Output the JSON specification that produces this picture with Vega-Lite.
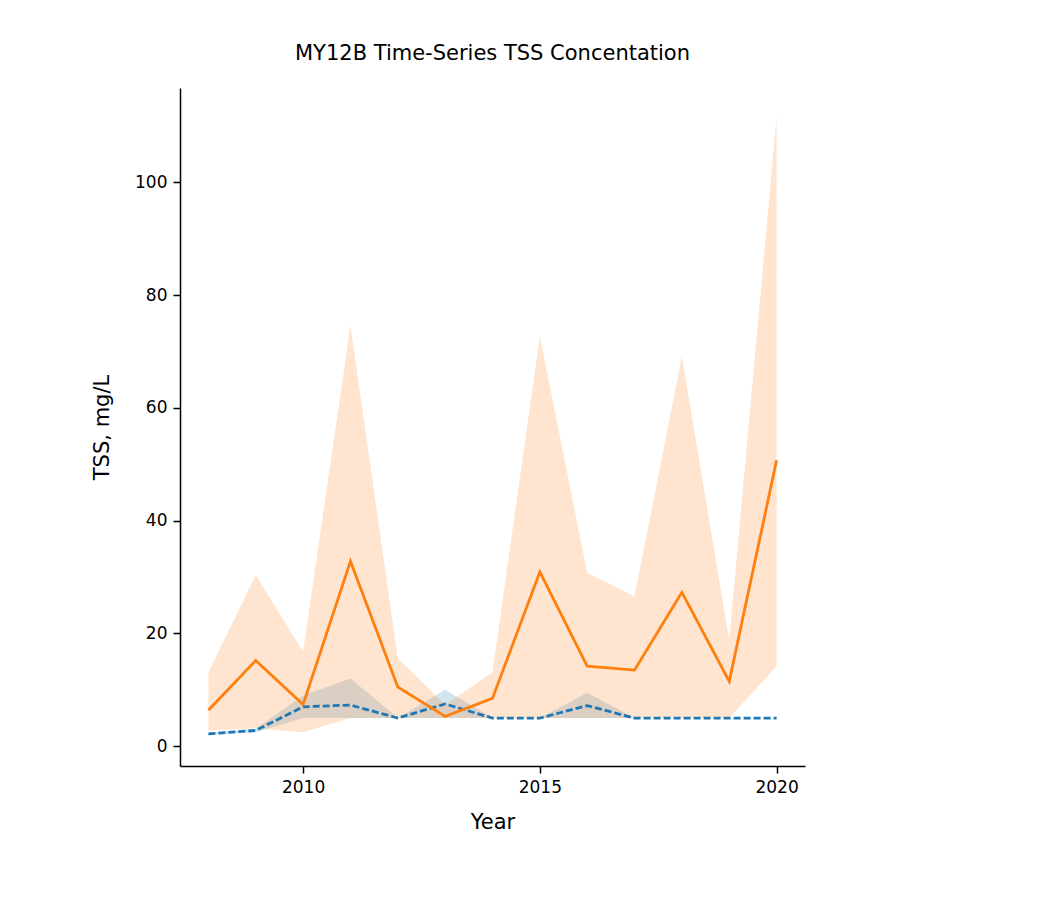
{
  "$schema": "https://vega.github.io/schema/vega-lite/v6.json",
  "autosize": "none",
  "width": 625,
  "height": 678,
  "padding": {"left": 180, "top": 88, "right": 236, "bottom": 149},
  "background": "white",
  "title": {"text": "MY12B Time-Series TSS Concentation", "font": "DejaVu Sans", "fontSize": 21, "fontWeight": "normal", "anchor": "middle", "offset": 24, "color": "black"},
  "config": {
    "view": {"stroke": null},
    "axis": {"labelFont": "DejaVu Sans", "titleFont": "DejaVu Sans", "labelFontSize": 17, "titleFontSize": 21, "titleFontWeight": "normal", "grid": false, "domainColor": "black", "tickColor": "black", "labelColor": "black", "titleColor": "black", "tickSize": 7, "labelPadding": 6, "domainWidth": 1.5, "tickWidth": 1.5}
  },
  "data": {"values": [
    {"year": 2008, "storm": "No", "mean": 2.2, "lo": 2.0, "hi": 2.4},
    {"year": 2009, "storm": "No", "mean": 2.8, "lo": 2.5, "hi": 3.1},
    {"year": 2010, "storm": "No", "mean": 7.0, "lo": 5.0, "hi": 9.0},
    {"year": 2011, "storm": "No", "mean": 7.3, "lo": 5.0, "hi": 12.0},
    {"year": 2012, "storm": "No", "mean": 5.0, "lo": 5.0, "hi": 5.0},
    {"year": 2013, "storm": "No", "mean": 7.5, "lo": 5.0, "hi": 10.0},
    {"year": 2014, "storm": "No", "mean": 5.0, "lo": 5.0, "hi": 5.0},
    {"year": 2015, "storm": "No", "mean": 5.0, "lo": 5.0, "hi": 5.0},
    {"year": 2016, "storm": "No", "mean": 7.2, "lo": 5.0, "hi": 9.5},
    {"year": 2017, "storm": "No", "mean": 5.0, "lo": 5.0, "hi": 5.0},
    {"year": 2018, "storm": "No", "mean": 5.0, "lo": 5.0, "hi": 5.0},
    {"year": 2019, "storm": "No", "mean": 5.0, "lo": 5.0, "hi": 5.0},
    {"year": 2020, "storm": "No", "mean": 5.0, "lo": 5.0, "hi": 5.0},
    {"year": 2008, "storm": "Yes", "mean": 6.4, "lo": 2.8, "hi": 13.1},
    {"year": 2009, "storm": "Yes", "mean": 15.2, "lo": 3.2, "hi": 30.3},
    {"year": 2010, "storm": "Yes", "mean": 7.4, "lo": 2.5, "hi": 16.8},
    {"year": 2011, "storm": "Yes", "mean": 32.8, "lo": 5.0, "hi": 74.6},
    {"year": 2012, "storm": "Yes", "mean": 10.5, "lo": 5.0, "hi": 15.6},
    {"year": 2013, "storm": "Yes", "mean": 5.3, "lo": 5.0, "hi": 7.3},
    {"year": 2014, "storm": "Yes", "mean": 8.5, "lo": 5.0, "hi": 13.1},
    {"year": 2015, "storm": "Yes", "mean": 30.9, "lo": 5.0, "hi": 72.7},
    {"year": 2016, "storm": "Yes", "mean": 14.2, "lo": 5.0, "hi": 30.7},
    {"year": 2017, "storm": "Yes", "mean": 13.5, "lo": 5.0, "hi": 26.6},
    {"year": 2018, "storm": "Yes", "mean": 27.3, "lo": 5.0, "hi": 69.1},
    {"year": 2019, "storm": "Yes", "mean": 11.5, "lo": 5.0, "hi": 18.8},
    {"year": 2020, "storm": "Yes", "mean": 50.7, "lo": 14.2, "hi": 111.7}
  ]},
  "encoding": {
    "x": {"field": "year", "type": "quantitative", "title": "Year", "scale": {"domain": [2007.4, 2020.6], "nice": false, "zero": false}, "axis": {"values": [2010, 2015, 2020], "format": "d", "titlePadding": 16}}
  },
  "layer": [
    {
      "mark": {"type": "area", "opacity": 0.2},
      "encoding": {
        "y": {"field": "lo", "type": "quantitative"},
        "y2": {"field": "hi"},
        "fill": {"field": "storm", "type": "nominal", "scale": {"domain": ["No", "Yes"], "range": ["#1f77b4", "#ff7f0e"]}, "legend": null}
      }
    },
    {
      "mark": {"type": "line", "strokeWidth": 2.8},
      "encoding": {
        "y": {"field": "mean", "type": "quantitative", "title": "TSS, mg/L", "scale": {"domain": [-3.5, 116.7], "nice": false, "zero": false}, "axis": {"values": [0, 20, 40, 60, 80, 100], "titlePadding": 22}},
        "color": {"field": "storm", "type": "nominal", "scale": {"domain": ["No", "Yes"], "range": ["#1f77b4", "#ff7f0e"]},
          "legend": {"title": "Storm", "orient": "none", "legendX": 638, "legendY": 290, "titleFont": "DejaVu Sans", "titleFontSize": 21, "titleFontWeight": "normal", "titleColor": "black", "titlePadding": 18, "labelFont": "DejaVu Sans", "labelFontSize": 21, "labelColor": "black", "symbolType": "stroke", "symbolSize": 1100, "symbolStrokeWidth": 3, "rowPadding": 28, "labelOffset": 20}},
        "strokeDash": {"field": "storm", "type": "nominal", "scale": {"domain": ["No", "Yes"], "range": [[7, 3], [1, 0]]},
          "legend": {"title": "Storm", "orient": "none", "legendX": 638, "legendY": 290, "titleFont": "DejaVu Sans", "titleFontSize": 21, "titleFontWeight": "normal", "titleColor": "black", "titlePadding": 18, "labelFont": "DejaVu Sans", "labelFontSize": 21, "labelColor": "black", "symbolType": "stroke", "symbolSize": 1100, "symbolStrokeWidth": 3, "rowPadding": 28, "labelOffset": 20}}
      }
    }
  ]
}
